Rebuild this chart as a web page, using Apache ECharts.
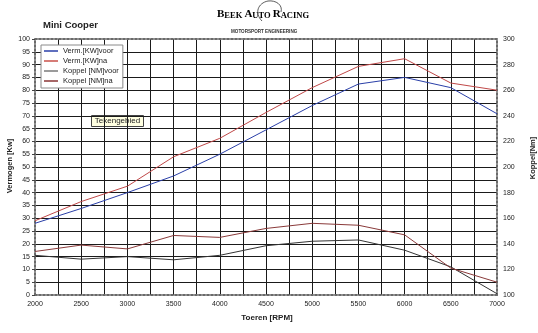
<!DOCTYPE html>
<html><head><meta charset="utf-8">
<script src="https://cdn.jsdelivr.net/npm/echarts@6/dist/echarts.min.js"></script>
<style>html,body{margin:0;padding:0;background:#fff}#c{width:538px;height:333px}</style>
</head><body><div id="c"></div>
<script>
const rpm = [2000,2500,3000,3500,4000,4500,5000,5500,6000,6500,7000];
const vermVoor = [28,33.8,40,46.5,55,64.5,74,82.4,85,81,70.8];
const vermNa = [29,36.5,42.5,54,61.2,71.3,81,89.3,92.3,82.8,80];
const koppelVoor = [131,128,130,127.5,131,138.5,142,143,135,122,101];
const koppelNa = [134,139,136,146.5,145,152,156,154.5,147,121,110];
const seriesNames = ['Verm.[KW]voor','Verm.[KW]na','Koppel [NM]voor','Koppel [NM]na'];
const seriesColors = ['#2a3fa8','#c8504a','#7a7a7a','#8a3434'];
const lineColors = ['#2a3fa8','#c04848','#333333','#8a3a3a'];

const pair = arr => rpm.map((r,i)=>[r,arr[i]]);
const chart = echarts.init(document.getElementById('c'), null, {renderer:'canvas'});
const dotted = {color:'#6a6a6a', type:'dotted', width:2};
const font = 'Arial, "Liberation Sans", sans-serif';
chart.setOption({
  backgroundColor:'#fff',
  animation:false,
  textStyle:{fontFamily:font},
  grid:{left:35,right:41,top:39,bottom:38},
  legend:{
    orient:'vertical', left:41, top:45, data:seriesNames.map((n,i)=>({name:n,itemStyle:{color:seriesColors[i]}})),
    icon:'rect', itemWidth:14, itemHeight:1.5, itemGap:2,
    padding:[2,4,3,3], backgroundColor:'#fff', borderColor:'#8a8a8a', borderWidth:1,
    textStyle:{fontSize:7.5, color:'#222', lineHeight:8, fontFamily:font}
  },
  xAxis:[{
    type:'value', min:2000, max:7000, interval:250,
    axisLine:{lineStyle:dotted}, axisTick:{show:false},
    axisLabel:{fontSize:7, color:'#222', margin:6, formatter:v=> (v%500===0? String(v):'')},
    splitLine:{show:true, showMinLine:false, showMaxLine:false, lineStyle:{color:'#1a1a1a', width:1}}
  },{
    type:'value', position:'top', min:2000, max:7000,
    axisLine:{show:true, lineStyle:dotted}, axisTick:{show:false}, axisLabel:{show:false}, splitLine:{show:false}
  }],
  yAxis:[{
    type:'value', min:0, max:100, interval:5,
    axisLine:{show:true, lineStyle:dotted}, axisTick:{show:true, length:3, lineStyle:{color:'#444'}},
    axisLabel:{fontSize:7, color:'#222', margin:5},
    splitLine:{show:true, showMinLine:false, showMaxLine:false, lineStyle:{color:'#1a1a1a', width:1}}
  },{
    type:'value', min:100, max:300, interval:10, position:'right',
    axisLine:{show:true, lineStyle:dotted}, axisTick:{show:false},
    axisLabel:{fontSize:7, color:'#222', margin:6, formatter:v=>(v%20===0? String(v):'')},
    splitLine:{show:false}
  }],
  series:[
    {name:seriesNames[0], type:'line', data:pair(vermVoor), yAxisIndex:0, showSymbol:false, lineStyle:{color:lineColors[0], width:1}, itemStyle:{color:seriesColors[0]}},
    {name:seriesNames[1], type:'line', data:pair(vermNa), yAxisIndex:0, showSymbol:false, lineStyle:{color:lineColors[1], width:1}, itemStyle:{color:seriesColors[1]}},
    {name:seriesNames[2], type:'line', data:pair(koppelVoor), yAxisIndex:1, showSymbol:false, lineStyle:{color:lineColors[2], width:1}, itemStyle:{color:seriesColors[2]}},
    {name:seriesNames[3], type:'line', data:pair(koppelNa), yAxisIndex:1, showSymbol:false, lineStyle:{color:lineColors[3], width:1}, itemStyle:{color:seriesColors[3]}}
  ],
  graphic:[
    {type:'text', left:43, top:20, style:{text:'Mini Cooper', font:'bold 9.5px '+font, fill:'#222'}},
    {type:'text', left:217, top:9, style:{
      text:'{b|B}{s|EEK }{b|A}{s|UTO }{b|R}{s|ACING}',
      rich:{b:{fontSize:11, fontWeight:'bold', fontFamily:'"Liberation Serif", serif', color:'#222', verticalAlign:'bottom'},
            s:{fontSize:8.5, fontWeight:'bold', fontFamily:'"Liberation Serif", serif', color:'#222', verticalAlign:'bottom'}}
    }},
    {type:'text', left:231, top:29, style:{text:'MOTORSPORT ENGINEERING', font:'bold 4.6px '+font, fill:'#333'}},
    {type:'bezierCurve', shape:{x1:262,y1:21,x2:268,y2:1,cpx1:254,cpy1:13,cpx2:258,cpy2:3}, style:{stroke:'#333', fill:null, lineWidth:0.8}},
    {type:'bezierCurve', shape:{x1:268,y1:1,x2:281,y2:12,cpx1:276,cpy1:0,cpx2:283,cpy2:5}, style:{stroke:'#333', fill:null, lineWidth:0.8}},
    {type:'text', x:10, y:166, rotation:Math.PI/2, style:{text:'Vermogen [Kw]', font:'bold 7.5px '+font, fill:'#222', align:'center', verticalAlign:'middle'}},
    {type:'text', x:533, y:158, rotation:Math.PI/2, style:{text:'Koppel[Nm]', font:'bold 7.5px '+font, fill:'#222', align:'center', verticalAlign:'middle'}},
    {type:'text', x:267, y:318, style:{text:'Toeren [RPM]', font:'bold 8px '+font, fill:'#222', align:'center', verticalAlign:'middle'}},
    {type:'group', left:91, top:115, z:100, children:[
      {type:'rect', shape:{x:0,y:0,width:52,height:11}, style:{fill:'#ffffe1', stroke:'#444', lineWidth:1}},
      {type:'text', x:26, y:5.5, style:{text:'Tekengebied', font:'8px '+font, fill:'#222', align:'center', verticalAlign:'middle'}}
    ]}
  ]
});
</script></body></html>
